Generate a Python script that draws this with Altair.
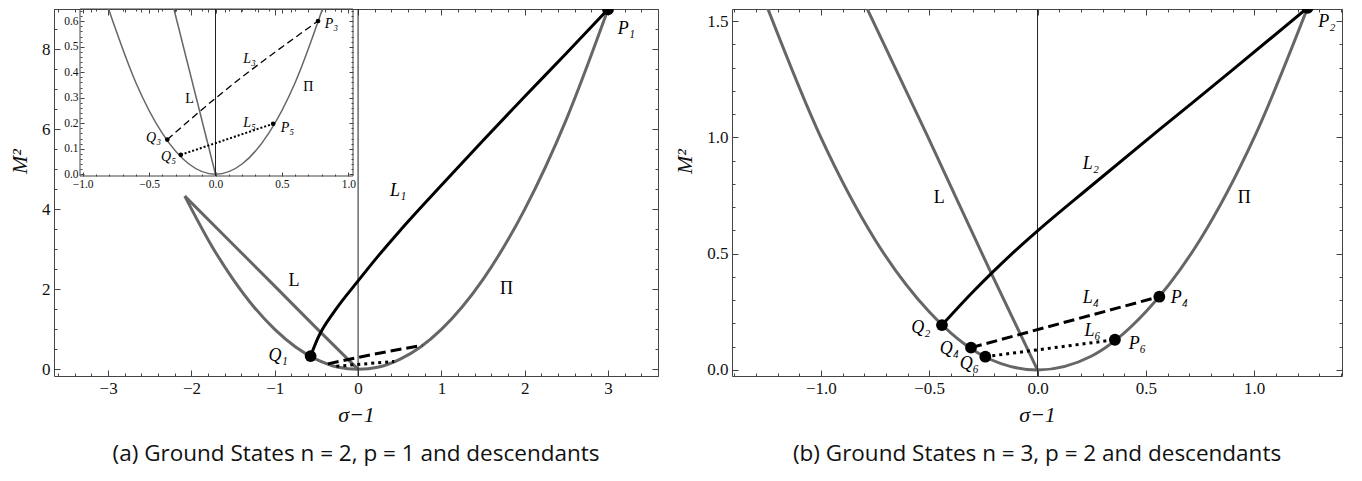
import altair as alt
import pandas as pd

SERIF = "Liberation Serif"
SANS = "Open Sans"
GRAY = "#666666"
FRAME = "#444444"

# ---------------- panel (a): main view ----------------
A_PI_X = [-2.08, -1.75, -1.5, -1.25, -1.0, -0.75, -0.5, -0.25, 0.0, 0.25, 0.5, 0.75, 1.0, 1.5, 2.0, 2.5, 3.0]
A_PI_Y = [4.33, 3.06, 2.25, 1.56, 1.0, 0.56, 0.25, 0.06, 0.0, 0.06, 0.25, 0.56, 1.0, 2.25, 4.0, 6.25, 9.0]
A_L_X = [-2.08, -1.5, -1.0, -0.5, 0.0]
A_L_Y = [4.33, 3.12, 2.08, 1.03, 0.0]
A_L1_X = [-0.57, -0.48, -0.28, 0.0, 0.24, 0.5, 1.0, 1.5, 2.0, 2.5, 3.0]
A_L1_Y = [0.33, 0.79, 1.46, 2.21, 2.83, 3.46, 4.6, 5.72, 6.82, 7.9, 9.0]
A_L3_X = [-0.363, 0.0, 0.772]
A_L3_Y = [0.136, 0.298, 0.601]
A_L5_X = [-0.261, 0.434]
A_L5_Y = [0.076, 0.198]
A_PTS_X = [-0.57, 3.0]
A_PTS_Y = [0.33, 9.0]
A_ITAL_T = ["P₁", "L₁", "Q₁"]
A_ITAL_X = [3.22, 0.48, -0.96]
A_ITAL_Y = [8.51, 4.46, 0.33]
A_ROM_T = ["Π", "L"]
A_ROM_X = [1.78, -0.77]
A_ROM_Y = [2.0, 2.21]

# ---------------- panel (a): inset ----------------
I_PI_X = [-0.805, -0.6, -0.4, -0.2, 0.0, 0.2, 0.4, 0.6, 0.805]
I_PI_Y = [0.648, 0.36, 0.16, 0.04, 0.0, 0.04, 0.16, 0.36, 0.648]
I_L_X = [-0.313, 0.0]
I_L_Y = [0.648, 0.0]
I_PTS_X = [-0.363, 0.772, -0.261, 0.434]
I_PTS_Y = [0.136, 0.601, 0.076, 0.198]
I_ITAL_T = ["P₃", "L₃", "L₅", "P₅", "Q₃", "Q₅"]
I_ITAL_X = [0.872, 0.256, 0.256, 0.541, -0.466, -0.353]
I_ITAL_Y = [0.589, 0.452, 0.201, 0.182, 0.142, 0.068]
I_ROM_T = ["Π", "L"]
I_ROM_X = [0.699, -0.195]
I_ROM_Y = [0.342, 0.295]
I_BOX_X = [-1.02]
I_BOX_X2 = [1.035]
I_BOX_Y = [-0.007]
I_BOX_Y2 = [0.648]

# ---------------- panel (b) ----------------
B_PI_X = [-1.26, -1.0, -0.75, -0.5, -0.25, 0.0, 0.25, 0.5, 0.75, 1.0, 1.246]
B_PI_Y = [1.59, 1.0, 0.56, 0.25, 0.06, 0.0, 0.06, 0.25, 0.56, 1.0, 1.557]
B_L_X = [-0.805, -0.505, -0.215, 0.0]
B_L_Y = [1.59, 1.0, 0.418, 0.0]
B_L2_X = [-0.441, -0.3, -0.2, -0.1, 0.0, 0.25, 0.562, 0.9, 1.246]
B_L2_Y = [0.193, 0.334, 0.427, 0.515, 0.598, 0.793, 1.033, 1.29, 1.557]
B_L4_X = [-0.307, 0.562]
B_L4_Y = [0.096, 0.315]
B_L6_X = [-0.241, 0.357]
B_L6_Y = [0.057, 0.130]
B_PTS_X = [-0.441, -0.307, -0.241, 1.246, 0.562, 0.357]
B_PTS_Y = [0.193, 0.096, 0.057, 1.557, 0.315, 0.130]
B_ITAL_T = ["P₂", "L₂", "L₄", "P₄", "L₆", "P₆", "Q₂", "Q₄", "Q₆"]
B_ITAL_X = [1.335, 0.246, 0.246, 0.654, 0.254, 0.461, -0.538, -0.407, -0.315]
B_ITAL_Y = [1.495, 0.884, 0.311, 0.311, 0.168, 0.113, 0.182, 0.089, 0.024]
B_ROM_T = ["Π", "L"]
B_ROM_X = [0.954, -0.454]
B_ROM_Y = [0.740, 0.740]

CAPTION_A = "(a) Ground States n = 2, p = 1 and descendants"
CAPTION_B = "(b) Ground States n = 3, p = 2 and descendants"
X_TITLE = "σ−1"
Y_TITLE = "M²"


def minor(lo, hi, step, major):
    out = []
    for i in range(int(round(lo / step)), int(round(hi / step)) + 1):
        v = round(i * step, 4)
        r = v / major
        if abs(r - round(r)) > 1e-6:
            out.append(v)
    return out


A_XT_MAJOR = [-3, -2, -1, 0, 1, 2, 3]
A_XT_MINOR = minor(-3.6, 3.6, 0.2, 1)
A_YT_MAJOR = [0, 2, 4, 6, 8]
A_YT_MINOR = minor(0.5, 9.0, 0.5, 2)
I_XT_MAJOR = [-1.0, -0.5, 0.0, 0.5, 1.0]
I_XT_MINOR = minor(-1.0, 1.0, 0.1, 0.5)
I_YT_MAJOR = [0.0, 0.1, 0.2, 0.3, 0.4, 0.5, 0.6]
I_YT_MINOR = minor(0.0, 0.64, 0.02, 0.1)
B_XT_MAJOR = [-1.0, -0.5, 0.0, 0.5, 1.0]
B_XT_MINOR = minor(-1.4, 1.4, 0.1, 0.5)
B_YT_MAJOR = [0.0, 0.5, 1.0, 1.5]
B_YT_MINOR = minor(0.1, 1.5, 0.1, 0.5)

W_A, W_B, H = 604, 610, 367


def axis(orient, values, size, base=0, labels=False, fmt="d", lsize=17, lpad=4,
         title=None, title_y=None, tpad=8):
    kw = dict(orient=orient, values=values, tickSize=size, offset=-(base + size),
              domain=False, grid=False, ticks=True, tickColor=FRAME, tickWidth=1,
              labels=labels)
    if labels:
        kw.update(format=fmt, labelFont=SERIF, labelFontSize=lsize, labelColor="#111",
                  labelPadding=lpad, labelFlush=False, labelOverlap=False)
    if title:
        kw.update(title=title, titleFont=SERIF, titleFontSize=22, titleFontStyle="italic",
                  titleFontWeight="normal", titleColor="#111", titlePadding=tpad)
        if title_y is not None:
            kw.update(titleY=title_y)
    else:
        kw["title"] = None
    return alt.Axis(**kw)


def df_xy(xs, ys):
    return pd.DataFrame({"x": xs, "y": ys, "o": list(range(len(xs)))})


def line(xs, ys, sx, sy, xa=None, ya=None, **mk):
    return alt.Chart(df_xy(xs, ys)).mark_line(interpolate="monotone", clip=True, **mk).encode(
        x=alt.X("x:Q", scale=sx, axis=xa),
        y=alt.Y("y:Q", scale=sy, axis=ya),
        order="o:Q",
    )


def pts(xs, ys, sx, sy, size):
    return alt.Chart(df_xy(xs, ys)).mark_circle(size=size, color="black", opacity=1, clip=True).encode(
        x=alt.X("x:Q", scale=sx, axis=None),
        y=alt.Y("y:Q", scale=sy, axis=None),
    )


def texts(t, xs, ys, sx, sy, size, italic):
    d = pd.DataFrame({"t": t, "x": xs, "y": ys})
    return alt.Chart(d).mark_text(font=SERIF, fontSize=size, fontStyle="italic" if italic else "normal",
                                  color="black", align="center", baseline="middle", clip=True).encode(
        x=alt.X("x:Q", scale=sx, axis=None),
        y=alt.Y("y:Q", scale=sy, axis=None),
        text="t:N",
    )


def vrule(sx):
    return alt.Chart(pd.DataFrame({"x": [0.0]})).mark_rule(color="#222", strokeWidth=1).encode(
        x=alt.X("x:Q", scale=sx, axis=None))


def caption(text):
    return alt.TitleParams(text=text, orient="bottom", anchor="middle", frame="group",
                           font=SANS, fontSize=22.5, fontWeight="normal", color="#111", offset=18)


# ---------------- build panel (a) ----------------
sxA = alt.Scale(domain=[-3.65, 3.6], nice=False, zero=False)
syA = alt.Scale(domain=[-0.167, 9.008], nice=False, zero=False)

mainA = alt.layer(
    line(A_PI_X, A_PI_Y, sxA, syA,
         xa=axis("bottom", A_XT_MAJOR, 6, labels=True, fmt="d", title=X_TITLE),
         ya=axis("left", A_YT_MAJOR, 6, labels=True, fmt="d", title=Y_TITLE, title_y=152, tpad=10),
         color=GRAY, strokeWidth=3),
    line(A_L_X, A_L_Y, sxA, syA,
         xa=axis("bottom", A_XT_MINOR, 3), ya=axis("left", A_YT_MINOR, 3),
         color=GRAY, strokeWidth=3),
    vrule(sxA),
    line(A_L1_X, A_L1_Y, sxA, syA,
         xa=axis("top", A_XT_MAJOR, 6), ya=axis("right", A_YT_MAJOR, 6),
         color="black", strokeWidth=3),
    line(A_L3_X, A_L3_Y, sxA, syA,
         xa=axis("top", A_XT_MINOR, 3), ya=axis("right", A_YT_MINOR, 3),
         color="black", strokeWidth=3, strokeDash=[11, 5]),
    line(A_L5_X, A_L5_Y, sxA, syA, color="black", strokeWidth=3, strokeDash=[3, 4]),
    pts(A_PTS_X, A_PTS_Y, sxA, syA, 140),
    texts(A_ITAL_T, A_ITAL_X, A_ITAL_Y, sxA, syA, 18, True),
    texts(A_ROM_T, A_ROM_X, A_ROM_Y, sxA, syA, 18, False),
).resolve_axis(x="independent", y="independent")

IX0, IX1, IYB, IYT = 26, 299, 167, 0
sxI = alt.Scale(domain=[-1.02, 1.035], range=[IX0, IX1], nice=False, zero=False)
syI = alt.Scale(domain=[-0.007, 0.648], range=[IYB, IYT], nice=False, zero=False)
BB = H - IYB      # offset of inset bottom from panel bottom
BR = W_A - IX1    # offset of inset right from panel right

box = alt.Chart(pd.DataFrame({"x": I_BOX_X, "x2": I_BOX_X2, "y": I_BOX_Y, "y2": I_BOX_Y2})).mark_rect(
    fill="white", fillOpacity=0, stroke=FRAME, strokeWidth=1).encode(
    x=alt.X("x:Q", scale=sxI, axis=axis("bottom", I_XT_MAJOR, 4, base=BB, labels=True, fmt=".1f", lsize=11.5, lpad=2)),
    x2="x2:Q",
    y=alt.Y("y:Q", scale=syI, axis=axis("left", I_YT_MAJOR, 4, base=IX0, labels=True, fmt=".1f", lsize=11.5, lpad=2)),
    y2="y2:Q",
)

ivr = alt.Chart(pd.DataFrame({"x": [0.0], "y": I_BOX_Y, "y2": I_BOX_Y2})).mark_rule(color="#222", strokeWidth=1).encode(
    x=alt.X("x:Q", scale=sxI, axis=None),
    y=alt.Y("y:Q", scale=syI, axis=None),
    y2="y2:Q",
)

inset = alt.layer(
    box,
    line(I_PI_X, I_PI_Y, sxI, syI,
         xa=axis("bottom", I_XT_MINOR, 2, base=BB), ya=axis("left", I_YT_MINOR, 2, base=IX0),
         color=GRAY, strokeWidth=1.5),
    line(I_L_X, I_L_Y, sxI, syI,
         xa=axis("top", I_XT_MAJOR, 4, base=IYT), ya=axis("right", I_YT_MAJOR, 4, base=BR),
         color=GRAY, strokeWidth=1.5),
    ivr,
    line(A_L3_X, A_L3_Y, sxI, syI,
         xa=axis("top", I_XT_MINOR, 2, base=IYT), ya=axis("right", I_YT_MINOR, 2, base=BR),
         color="black", strokeWidth=1.3, strokeDash=[7, 4]),
    line(A_L5_X, A_L5_Y, sxI, syI, color="black", strokeWidth=2, strokeDash=[2, 2]),
    pts(I_PTS_X, I_PTS_Y, sxI, syI, 22),
    texts(I_ITAL_T, I_ITAL_X, I_ITAL_Y, sxI, syI, 14, True),
    texts(I_ROM_T, I_ROM_X, I_ROM_Y, sxI, syI, 14, False),
).resolve_axis(x="independent", y="independent")

panelA = alt.layer(mainA, inset).resolve_scale(x="independent", y="independent").properties(
    width=W_A, height=H, title=caption(CAPTION_A))

# ---------------- build panel (b) ----------------
sxB = alt.Scale(domain=[-1.41, 1.405], nice=False, zero=False)
syB = alt.Scale(domain=[-0.026, 1.552], nice=False, zero=False)

panelB = alt.layer(
    line(B_PI_X, B_PI_Y, sxB, syB,
         xa=axis("bottom", B_XT_MAJOR, 6, labels=True, fmt=".1f", title=X_TITLE),
         ya=axis("left", B_YT_MAJOR, 6, labels=True, fmt=".1f", title=Y_TITLE, title_y=152, tpad=10),
         color=GRAY, strokeWidth=3),
    line(B_L_X, B_L_Y, sxB, syB,
         xa=axis("bottom", B_XT_MINOR, 3), ya=axis("left", B_YT_MINOR, 3),
         color=GRAY, strokeWidth=3),
    vrule(sxB),
    line(B_L2_X, B_L2_Y, sxB, syB,
         xa=axis("top", B_XT_MAJOR, 6), ya=axis("right", B_YT_MAJOR, 6),
         color="black", strokeWidth=3),
    line(B_L4_X, B_L4_Y, sxB, syB,
         xa=axis("top", B_XT_MINOR, 3), ya=axis("right", B_YT_MINOR, 3),
         color="black", strokeWidth=3, strokeDash=[11, 5]),
    line(B_L6_X, B_L6_Y, sxB, syB, color="black", strokeWidth=3, strokeDash=[3, 4]),
    pts(B_PTS_X, B_PTS_Y, sxB, syB, 140),
    texts(B_ITAL_T, B_ITAL_X, B_ITAL_Y, sxB, syB, 18, True),
    texts(B_ROM_T, B_ROM_X, B_ROM_Y, sxB, syB, 18, False),
).resolve_axis(x="independent", y="independent").properties(
    width=W_B, height=H, title=caption(CAPTION_B))

chart = alt.hconcat(panelA, panelB, spacing=14).properties(
    padding={"left": 0, "top": 0, "right": 0, "bottom": 4},
    background="white",
).configure_view(stroke=FRAME, strokeWidth=1).configure_axis(
    labelFont=SERIF, titleFont=SERIF
)

chart.save("out.html", embed_options={"renderer": "svg", "actions": False})
